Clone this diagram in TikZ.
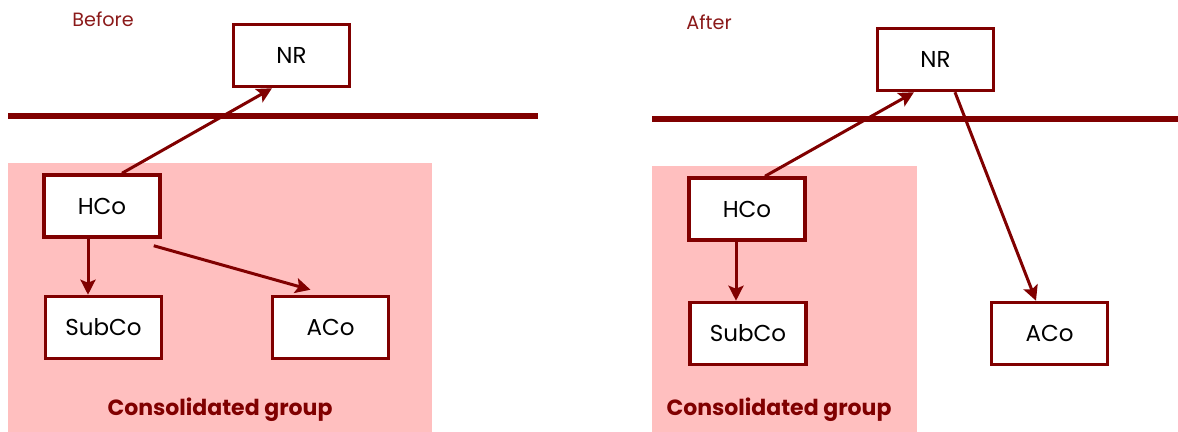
\documentclass[tikz,border=0pt]{standalone}
\usepackage{fontspec}
\setmainfont{Poppins}
\usetikzlibrary{arrows.meta,calc}
\definecolor{maroon}{HTML}{800000}
\definecolor{pinkbg}{HTML}{FFBFBF}
\definecolor{titlered}{HTML}{8B1A1A}
\begin{document}
\begin{tikzpicture}[x=0.5pt,y=-0.5pt,
  box/.style={draw=maroon, line width=1.75pt, fill=white, inner sep=0pt,
    minimum width=58pt, minimum height=31pt, font=\fontsize{11.5}{13}\selectfont, text=black},
  arr/.style={draw=maroon, line width=1.5pt, -{Stealth[length=7.5pt,width=7.5pt,inset=1.5pt]}},
  sepline/.style={draw=maroon, line width=2.6pt},
  title/.style={text=titlered, font=\fontsize{9.6}{11}\selectfont},
  grouplabel/.style={text=maroon, font=\fontsize{11}{13}\selectfont\bfseries}]
\useasboundingbox (0,0) rectangle (1178,432);
% backgrounds
\fill[pinkbg] (8,163) rectangle (432,432);
\fill[pinkbg] (652,166) rectangle (917,432);
% separator lines
\coordinate (L1a) at (8,116);
\coordinate (L1b) at (538,116);
\coordinate (L2a) at (652,119);
\coordinate (L2b) at (1178,119);
\draw[sepline] (L1a) -- (L1b);
\draw[sepline] (L2a) -- (L2b);
% titles
\node[title] (before) at (103,19) {Before};
\node[title] (after) at (709,22) {After};
% left boxes
\node[box] (NR1) at (291.5,55.5) {NR};
\node[box] (HCo1) at (102,206) {HCo};
\node[box] (Sub1) at (103.5,327.5) {SubCo};
\node[box] (ACo1) at (330.5,327.5) {ACo};
% right boxes
\node[box] (NR2) at (935.5,59.5) {NR};
\node[box] (HCo2) at (747,209) {HCo};
\node[box] (Sub2) at (748,333.5) {SubCo};
\node[box] (ACo2) at (1049.5,333.5) {ACo};
% arrow end points
\coordinate (s1) at ($(HCo1.south)+(-14,0)$);
\coordinate (s2) at ($(HCo2.south)+(-11,0)$);
% left arrows
\draw[arr] ($(HCo1.north)+(20,0)$) -- ($(NR1.south)+(-19.5,0)$);
\draw[arr] (s1) -- (s1 |- Sub1.north);
\draw[arr] ($(HCo1.south east)+(-8,7)$) -- ($(ACo1.north)+(-20,-5)$);
% right arrows
\draw[arr] ($(HCo2.north)+(18,0)$) -- ($(NR2.south)+(-21.5,0)$);
\draw[arr] (s2) -- (s2 |- Sub2.north);
\draw[arr] ($(NR2.south)+(19.5,0)$) -- ($(ACo2.north)+(-13.5,0)$);
% group labels
\node[grouplabel] (grp1) at (220,410) {Consolidated group};
\node[grouplabel] (grp2) at (779,410) {Consolidated group};
\end{tikzpicture}
\end{document}
